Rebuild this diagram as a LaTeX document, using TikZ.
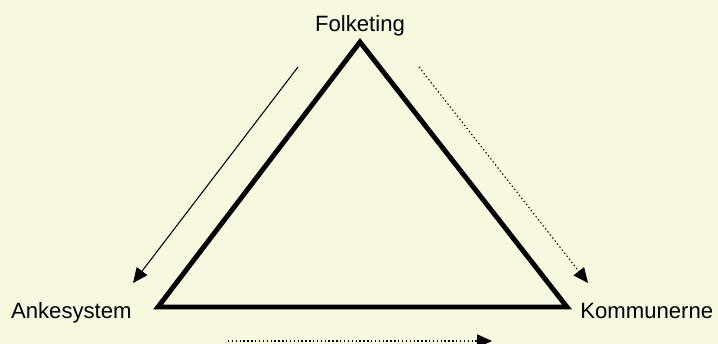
\documentclass[tikz,border=0pt]{standalone}
\usepackage{fontspec}
\setmainfont{Liberation Sans}
\usetikzlibrary{arrows.meta}
\definecolor{bgcream}{RGB}{248,248,224}

\begin{document}
\begin{tikzpicture}[x=0.02cm,y=-0.02cm,
    lbl/.style={font=\fontsize{12.6}{15}\selectfont,inner sep=0pt},
    flow/.style={line width=0.6pt,-{Triangle[length=8.5pt,width=7.5pt]}},
    dotflow/.style={flow,dash pattern=on 0.8pt off 1.4pt}]
  \fill[bgcream] (0,0) rectangle (718,344);
  \useasboundingbox (0,0) rectangle (718,344);
  % hjoerner
  \coordinate (ft) at (360,42);
  \coordinate (as) at (158,307);
  \coordinate (ko) at (567,307);
  \draw[line width=2.8pt,line join=miter] (ft) -- (as) -- (ko) -- cycle;
  \node[lbl,anchor=base] (folk) at (360,32) {Folketing};
  \node[lbl,anchor=base east] (anke) at (132,319) {Ankesystem};
  \node[lbl,anchor=base west] (komm) at (580,319) {Kommunerne};
  % pile
  \coordinate (a1) at (298,67);
  \coordinate (a2) at (133,283);
  \coordinate (b1) at (419,67);
  \coordinate (b2) at (588,283);
  \coordinate (c1) at (228,341);
  \coordinate (c2) at (492,341);
  \draw[flow] (a1) -- (a2);
  \draw[dotflow] (b1) -- (b2);
  \draw[dotflow] (c1) -- (c2);
\end{tikzpicture}
\end{document}
